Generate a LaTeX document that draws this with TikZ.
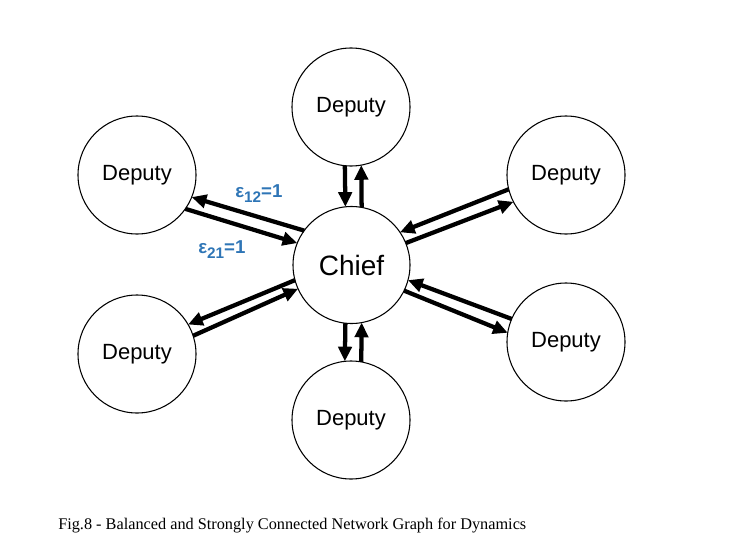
\documentclass[tikz,border=0pt]{standalone}
\usepackage{fontspec}
\setmainfont{Liberation Serif}
\newfontfamily\arialfont{Liberation Sans}
\usetikzlibrary{arrows.meta}
\definecolor{labelblue}{RGB}{46,117,182}
\tikzset{
  agent/.style={circle, draw=black, line width=0.8pt, inner sep=0pt, outer sep=0pt,
    minimum size=88.5pt, font=\arialfont\fontsize{16.5}{18}\selectfont},
  chiefnode/.style={agent, minimum size=87.75pt, font=\arialfont\fontsize{21}{24}\selectfont},
  link/.style={line width=3.2pt, -{Triangle[length=11pt, width=10pt]}},
  weight/.style={text=labelblue, anchor=base west, inner sep=0pt,
    font=\arialfont\bfseries\fontsize{14}{16}\selectfont},
  caption/.style={anchor=base west, inner sep=0pt, font=\fontsize{12.2}{14}\selectfont}
}
\newcommand{\wlabel}[1]{ε\raisebox{-0.3em}{\fontsize{11.5}{13}\selectfont #1}=1}
\begin{document}
\begin{tikzpicture}[x=0.75pt, y=-0.75pt]
\useasboundingbox (0,0) rectangle (736,550);
\node[chiefnode] (chief) at (351.5,265) {Chief};
\node[agent] (top) at (351,107) {Deputy};
\node[agent] (bot) at (351,420) {Deputy};
\node[agent] (ul) at (137,175) {Deputy};
\node[agent] (ur) at (566,175) {Deputy};
\node[agent] (ll) at (137,354) {Deputy};
\node[agent] (lr) at (566,342) {Deputy};
% top pair
\draw[link] (top.264) -- (chief.96);
\draw[link] (chief.80) -- (top.280);
% bottom pair
\draw[link] (chief.264) -- (bot.96);
\draw[link] (bot.80) -- (chief.280);
% upper-right pair
\draw[link] (ur.194) -- (chief.34);
\draw[link] (chief.22) -- (ur.207);
% lower-right pair
\draw[link] (lr.157) -- (chief.345);
\draw[link] (chief.334) -- (lr.171);
% upper-left pair
\draw[link] (chief.144.5) -- (ul.338);
\draw[link] (ul.325) -- (chief.158);
% lower-left pair
\draw[link] (chief.195) -- (ll.30);
\draw[link] (ll.18) -- (chief.204);
% weights
\node[weight] (w12) at (235,197) {\wlabel{12}};
\node[weight] (w21) at (198,253) {\wlabel{21}};
% caption
\node[caption] (cap) at (58,529) {Fig.8 - Balanced and Strongly Connected Network Graph for Dynamics};
\end{tikzpicture}
\end{document}
